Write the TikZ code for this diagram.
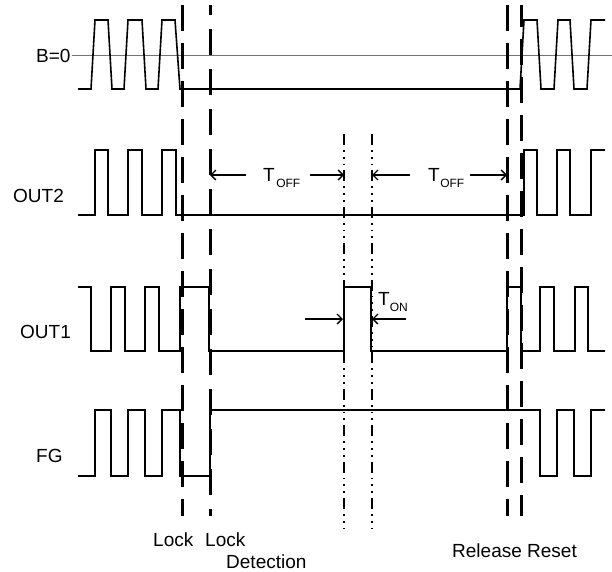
\documentclass[tikz,border=0pt]{standalone}
\usepackage{fontspec}
\setmainfont{Liberation Sans}
\usetikzlibrary{arrows.meta}
\begin{document}
\begin{tikzpicture}[x=1pt,y=-1pt,
  wave/.style={line width=1.6pt, line join=miter},
  axisline/.style={line width=0.9pt, black!55},
  lockA/.style={line width=3pt, dash pattern=on 26pt off 12pt},
  lockB/.style={line width=3pt, dash pattern=on 26pt off 14pt, dash phase=16pt},
  dotline/.style={line width=2.8pt, dash pattern=on 11pt off 5pt on 1.8pt off 5pt on 1.8pt off 5pt on 1.8pt off 5pt},
  arr/.style={line width=1.3pt, -{Straight Barb[length=5pt,width=10pt,line width=1.3pt]}},
  lbl/.style={anchor=base west, inner sep=0pt, font=\fontsize{19}{22}\selectfont},
  tlbl/.style={anchor=base west, inner sep=0pt, font=\fontsize{19}{22}\selectfont}
]
\useasboundingbox (0,0) rectangle (612,571);

% reference line of B=0
\node[lbl] (lB) at (36,62) {B=0};
\coordinate (bl0) at (72,55);
\coordinate (bl1) at (612,55);
\draw[axisline] (bl0) -- (bl1);

% B waveform
\draw[wave] (78,89) -- (91,89) -- (95,20) -- (108,20) -- (112,89) -- (124,89) -- (128,20) -- (142,20) -- (146,89) -- (158,89) -- (162,20) -- (175,20) -- (180,89) -- (520,89) -- (524,20) -- (537,20) -- (541,89) -- (554,89) -- (558,20) -- (570,20) -- (574,89) -- (587,89) -- (591,20) -- (605,20);

% OUT2
\node[lbl] (lO2) at (13,202) {OUT2};
\draw[wave] (78,215) -- (95,215) -- (95,150) -- (108,150) -- (108,215) -- (128,215) -- (128,150) -- (142,150) -- (142,215) -- (162,215) -- (162,150) -- (176,150) -- (176,215) -- (524,215) -- (524,150) -- (537,150) -- (537,215) -- (557,215) -- (557,150) -- (570,150) -- (570,215) -- (591,215) -- (591,150) -- (605,150);

% OUT1
\node[lbl] (lO1) at (20,338) {OUT1};
\draw[wave] (78,287) -- (91,287) -- (91,351) -- (111,351) -- (111,287) -- (125,287) -- (125,351) -- (145,351) -- (145,287) -- (159,287) -- (159,351) -- (180,351) -- (180,287) -- (209,287) -- (209,351) -- (344,351) -- (344,287) -- (371,287) -- (371,351) -- (507,351) -- (507,287) -- (521,287) -- (521,351) -- (540,351) -- (540,287) -- (554,287) -- (554,351) -- (575,351) -- (575,287) -- (588,287) -- (588,351) -- (605,351);

% FG
\node[lbl] (lFG) at (36,462) {FG};
\draw[wave] (78,476) -- (95,476) -- (95,410) -- (111,410) -- (111,476) -- (128,476) -- (128,410) -- (145,410) -- (145,476) -- (162,476) -- (162,410) -- (180,410) -- (180,476) -- (210,476) -- (210,410) -- (540,410) -- (540,476) -- (557,476) -- (557,410) -- (574,410) -- (574,476) -- (591,476) -- (591,410) -- (605,410);

% vertical markers
\coordinate (lockT) at (182,5);   \coordinate (lockE) at (182,516);
\coordinate (detT) at (210,5);    \coordinate (detE) at (210,516);
\coordinate (d1T) at (344,134);   \coordinate (d1E) at (344,532);
\coordinate (d2T) at (372,134);   \coordinate (d2E) at (372,532);
\coordinate (r1T) at (507,5);     \coordinate (r1E) at (507,516);
\coordinate (r2T) at (521,5);     \coordinate (r2E) at (521,516);
\draw[lockA] (lockT) -- (lockE);
\draw[lockB] (detT) -- (detE);
\draw[dotline] (d1T) -- (d1E);
\draw[dotline] (d2T) -- (d2E);
\draw[lockA] (r1T) -- (r1E);
\draw[lockA, dash phase=4pt] (r2T) -- (r2E);

% T_OFF arrows
\coordinate (a1s) at (246,175); \coordinate (a1e) at (210,175);
\coordinate (a2s) at (310,175); \coordinate (a2e) at (344,175);
\coordinate (a3s) at (410,175); \coordinate (a3e) at (372,175);
\coordinate (a4s) at (470,175); \coordinate (a4e) at (507,175);
\draw[arr] (a1s) -- (a1e);
\draw[arr] (a2s) -- (a2e);
\draw[arr] (a3s) -- (a3e);
\draw[arr] (a4s) -- (a4e);
\node[tlbl] (toff1) at (263,181) {T\kern1.5pt\raisebox{-6pt}{\fontsize{12}{14}\selectfont OFF}};
\node[tlbl] (toff2) at (428,181) {T\kern0.5pt\raisebox{-6pt}{\fontsize{12}{14}\selectfont OFF}};

% T_ON arrows
\coordinate (b1s) at (305,319); \coordinate (b1e) at (343,319);
\coordinate (b2s) at (406,319); \coordinate (b2e) at (372,319);
\draw[arr] (b1s) -- (b1e);
\draw[arr] (b2s) -- (b2e);
\node[tlbl] (ton) at (378,305) {T\raisebox{-6pt}{\fontsize{12}{14}\selectfont ON}};

% bottom labels
\node[lbl] (lk1) at (153,546) {Lock};
\node[lbl] (lk2) at (205,546) {Lock};
\node[lbl] (det) at (226,568) {Detection};
\node[lbl] (rel) at (452,557) {Release Reset};
\end{tikzpicture}
\end{document}
